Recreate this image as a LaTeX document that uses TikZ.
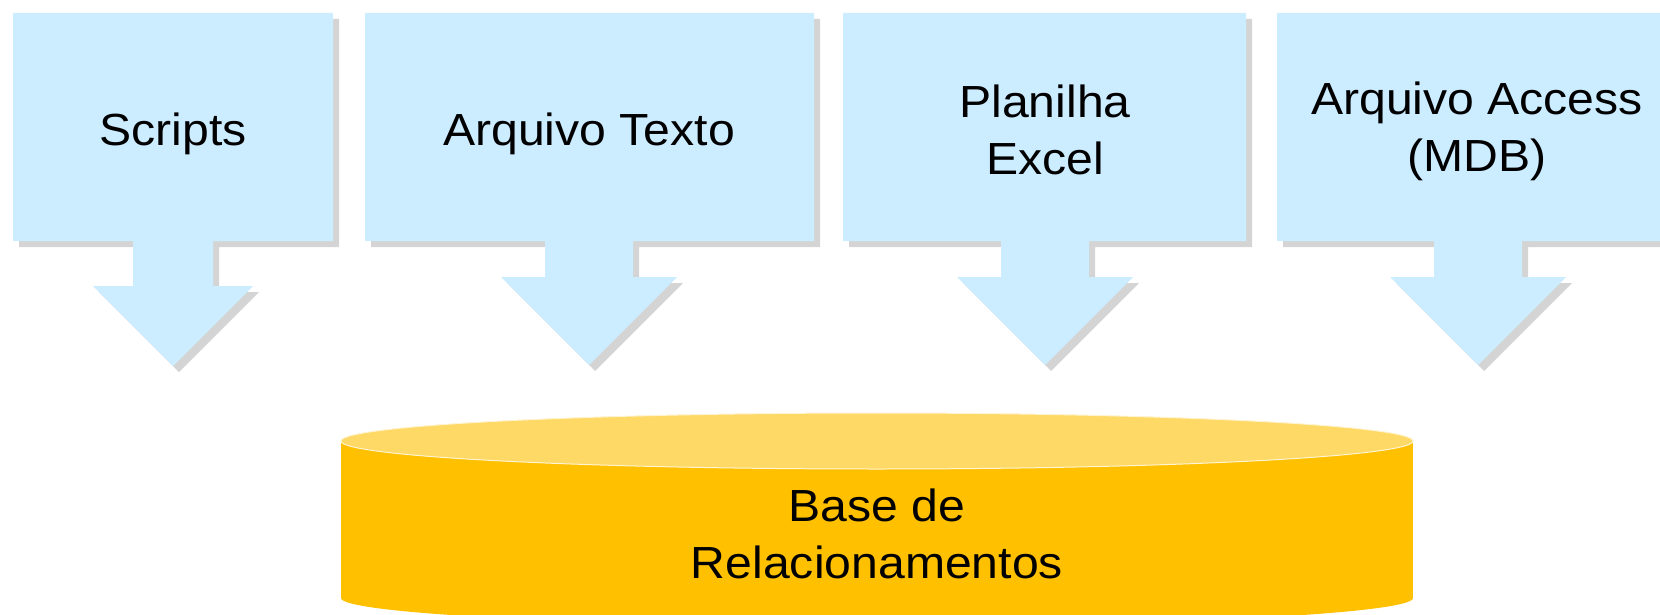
\documentclass[tikz,border=0pt]{standalone}
\usepackage{fontspec}
\setmainfont[FakeStretch=1.07]{Liberation Sans}
\usetikzlibrary{shadows}
\definecolor{srcblue}{HTML}{CCECFF}
\definecolor{dbbody}{HTML}{FFC000}
\definecolor{dbtop}{HTML}{FFD966}
\definecolor{shade}{HTML}{D4D4D4}
\begin{document}
\begin{tikzpicture}[x=1pt,y=-1pt,
    callout/.style={fill=srcblue,
      drop shadow={shadow xshift=6pt,shadow yshift=-6pt,fill=shade,opacity=1}},
    srctext/.style={inner sep=0pt,align=center,font=\fontsize{45}{57}\selectfont}]
  \clip (0,0) rectangle (1660,615);
  % sources: box with arrow underneath
  \foreach \l/\r/\c/\w/\b in {13/333/173/40/286, 365/814/589/44/277,
      843/1246/1045/44/277, 1277/1680/1478/44/277}
    \fill[callout] (\l,13) -- (\r,13) -- (\r,241) -- (\c+\w,241) -- (\c+\w,\b)
      -- (\c+2*\w,\b) -- (\c,\b+2*\w) -- (\c-2*\w,\b) -- (\c-\w,\b)
      -- (\c-\w,241) -- (\l,241) -- cycle;
  \node[srctext] (scripts) at (173,134) {Scripts};
  \node[srctext] (texto) at (589,134) {Arquivo Texto};
  \node[srctext] (excel) at (1045,130) {Planilha\\Excel};
  \node[srctext] (access) at (1477,131) {Arquivo Access\\(MDB)};
  % database
  \fill[dbbody] (341,441) rectangle (1413,598);
  \fill[dbbody] (877,598) ellipse [x radius=536,y radius=28];
  \filldraw[fill=dbtop,draw=white!70!dbtop,line width=1pt]
    (877,441) ellipse [x radius=536,y radius=28];
  \node[srctext] (base) at (877,534) {Base de\\Relacionamentos};
\end{tikzpicture}
\end{document}
